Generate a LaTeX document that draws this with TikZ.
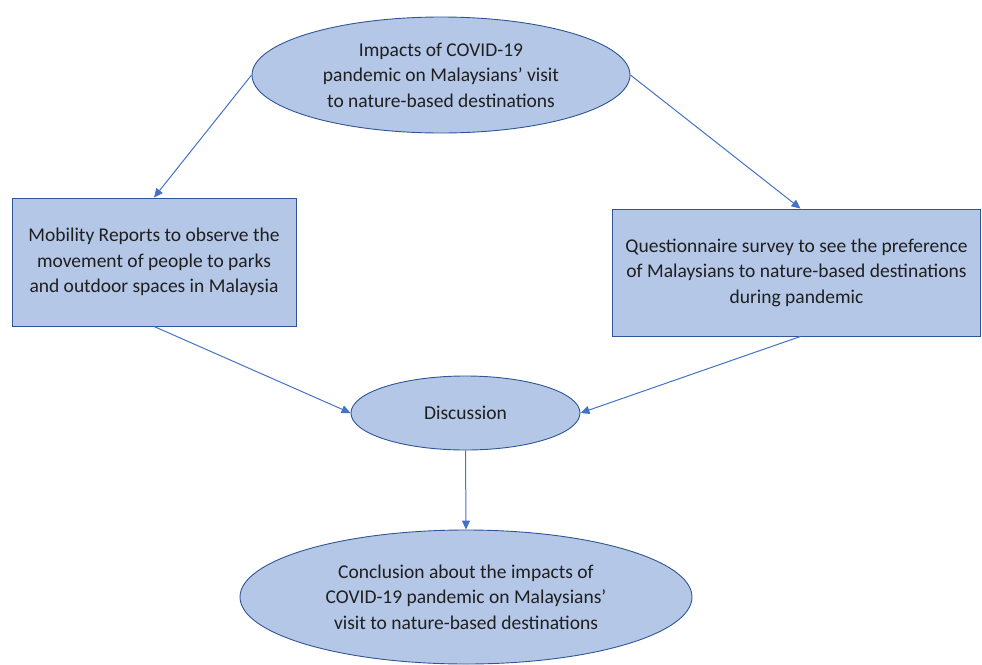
\documentclass[tikz,border=0pt]{standalone}
\usepackage{fontspec}
\setmainfont{Carlito}
\usetikzlibrary{shapes.geometric,arrows.meta}
\definecolor{boxfill}{HTML}{B4C7E7}
\definecolor{boxline}{HTML}{2F5597}
\definecolor{arrowcol}{HTML}{4472C4}
\definecolor{txt}{HTML}{1F1F1F}
\begin{document}
\begin{tikzpicture}[x=1pt,y=-1pt,
  shapebase/.style={fill=boxfill,draw=boxline,line width=0.9pt,inner sep=0pt,align=center,
    text=txt,font=\fontsize{19.5}{25.5}\selectfont},
  oval/.style={shapebase,ellipse},
  panel/.style={shapebase,rectangle},
  conn/.style={draw=arrowcol,line width=1pt,-{Triangle[length=9pt,width=8pt]}}]
\useasboundingbox (0,0) rectangle (982,664);
\node[oval,minimum width=378pt,minimum height=116pt] (top) at (441,75)
  {Impacts of COVID-19\\pandemic on Malaysians’ visit\\to nature-based destinations};
\node[panel,minimum width=284pt,minimum height=128pt] (left) at (154,262)
  {Mobility Reports to observe the\\movement of people to parks\\and outdoor spaces in Malaysia};
\node[panel,minimum width=368pt,minimum height=127pt] (right) at (796.5,272.5)
  {Questionnaire survey to see the preference\\of Malaysians to nature-based destinations\\during pandemic};
\node[oval,minimum width=229pt,minimum height=74pt] (disc) at (465.5,413) {Discussion};
\node[oval,minimum width=452pt,minimum height=134pt] (concl) at (466,597)
  {Conclusion about the impacts of\\COVID-19 pandemic on Malaysians’\\visit to nature-based destinations};
\draw[conn] (top.west) -- (left.north);
\draw[conn] (top.east) -- ([xshift=4pt]right.north);
\draw[conn] (left.south) -- (disc.west);
\draw[conn] ([xshift=4pt]right.south) -- (disc.east);
\draw[conn] (disc.south) -- (concl.north);
\end{tikzpicture}
\end{document}
